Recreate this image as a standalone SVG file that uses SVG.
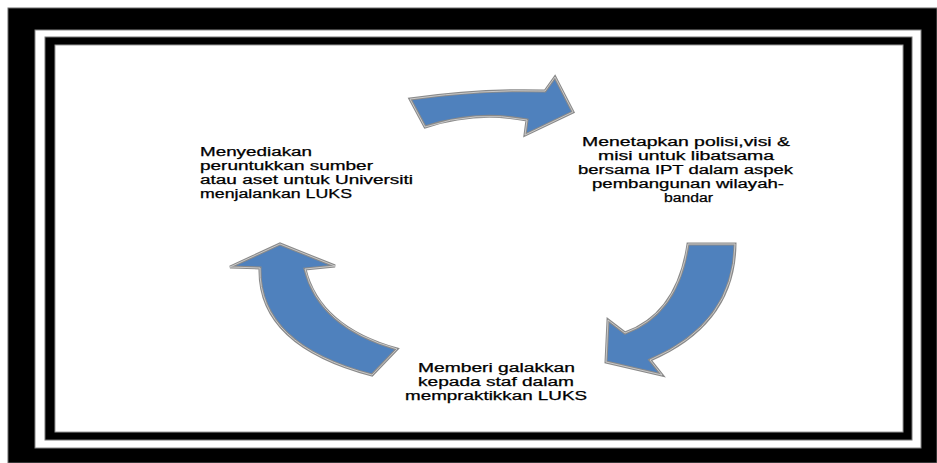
<svg xmlns="http://www.w3.org/2000/svg" width="937" height="463" viewBox="0 0 937 463">
<defs>
<style>
.lbl{font-family:"Liberation Sans",Arial,sans-serif;font-size:12px;fill:#000;stroke:#000;stroke-width:0.25;}
.arrow{fill:#4F81BD;stroke:#8a8a8a;stroke-width:3;stroke-linejoin:miter;}
.hl{fill:none;stroke:#cfcfcf;stroke-width:0.9;stroke-linejoin:miter;}
</style>
</defs>
<rect width="937" height="463" fill="#ffffff"/>
<g id="frame">
<rect x="8" y="8" width="929" height="455" fill="#000" stroke="#6a6a6a" stroke-width="1"/>
<rect x="35" y="30" width="886" height="418" fill="#fff" stroke="#888" stroke-width="1"/>
<rect x="45" y="37" width="867" height="403" fill="#000" stroke="#777" stroke-width="1"/>
<rect x="55" y="45" width="848" height="387" fill="#fff" stroke="#999" stroke-width="1"/>
</g>
<g id="connectors">
<path class="arrow" d="M410,99 Q482,89 545,91 L555,77 L573,112 L525,135 L527,120 Q476,110 425,127 Z"/>
<path class="hl" d="M410,99 Q482,89 545,91 L555,77 L573,112 L525,135 L527,120 Q476,110 425,127 Z"/>
<path class="arrow" d="M688,244 L735,244 Q734,324 650,360 L662,375 L606,362 L608,320 L625,333 Q678,314 688,244 Z"/>
<path class="hl" d="M688,244 L735,244 Q734,324 650,360 L662,375 L606,362 L608,320 L625,333 Q678,314 688,244 Z"/>
<path class="arrow" d="M372,375 Q258,345 260,268 L230,267 L280,244 L335,266 L305,269 Q319,327 397,349 Z"/>
<path class="hl" d="M372,375 Q258,345 260,268 L230,267 L280,244 L335,266 L305,269 Q319,327 397,349 Z"/>
</g>
<g id="node-left">
<text class="lbl" x="200" y="156" textLength="112" lengthAdjust="spacingAndGlyphs">Menyediakan</text>
<text class="lbl" x="200" y="170" textLength="173" lengthAdjust="spacingAndGlyphs">peruntukkan sumber</text>
<text class="lbl" x="200" y="184" textLength="213" lengthAdjust="spacingAndGlyphs">atau aset untuk Universiti</text>
<text class="lbl" x="200" y="198" textLength="152" lengthAdjust="spacingAndGlyphs">menjalankan LUKS</text>
</g>
<g id="node-right">
<text class="lbl" x="582" y="146" textLength="208" lengthAdjust="spacingAndGlyphs">Menetapkan polisi,visi &amp;</text>
<text class="lbl" x="598" y="160" textLength="176" lengthAdjust="spacingAndGlyphs">misi untuk libatsama</text>
<text class="lbl" x="578" y="174" textLength="215" lengthAdjust="spacingAndGlyphs">bersama IPT dalam aspek</text>
<text class="lbl" x="592" y="188" textLength="192" lengthAdjust="spacingAndGlyphs">pembangunan wilayah-</text>
<text class="lbl" x="664" y="202" textLength="49" lengthAdjust="spacingAndGlyphs">bandar</text>
</g>
<g id="node-bottom">
<text class="lbl" x="418" y="372" textLength="157" lengthAdjust="spacingAndGlyphs">Memberi galakkan</text>
<text class="lbl" x="418" y="386" textLength="156" lengthAdjust="spacingAndGlyphs">kepada staf dalam</text>
<text class="lbl" x="405" y="400" textLength="182" lengthAdjust="spacingAndGlyphs">mempraktikkan LUKS</text>
</g>
</svg>
